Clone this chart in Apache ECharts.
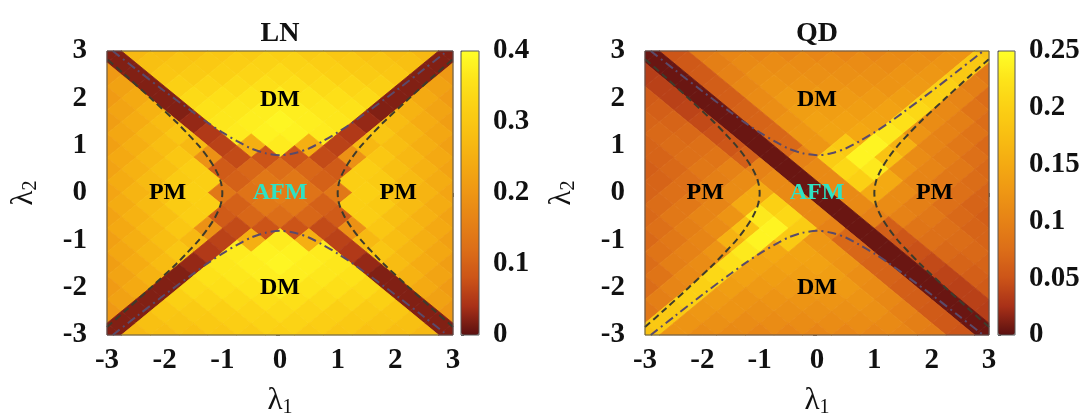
<!DOCTYPE html>
<html><head><meta charset="utf-8">
<script src="https://cdn.jsdelivr.net/npm/echarts@6/dist/echarts.min.js"></script>
<style>html,body{margin:0;padding:0;background:#fff}#c{width:1090px;height:414px}</style>
</head><body><div id="c"></div>
<script>
// Values sampled on a diagonal lattice: rows of lambda2 from 3 (top) to -3 (bottom);
// rows with 13 values sit at lambda1 = -3,-2.5,...,3, rows with 12 values at -2.75,...,2.75
const rowY  = [3,2.75,2.5,2.25,2,1.75,1.5,1.25,1,0.75,0.5,0.25,0,-0.25,-0.5,-0.75,-1,-1.25,-1.5,-1.75,-2,-2.25,-2.5,-2.75,-3];
const xEven = [-3,-2.5,-2,-1.5,-1,-0.5,0,0.5,1,1.5,2,2.5,3];
const xOdd  = [-2.75,-2.25,-1.75,-1.25,-0.75,-0.25,0.25,0.75,1.25,1.75,2.25,2.75];
// LN
const lnRows = [
[.02,.27,.28,.29,.30,.31,.32,.31,.30,.29,.28,.27,.02],
[.02,.285,.295,.305,.315,.325,.325,.315,.305,.295,.285,.02],
[.205,.02,.30,.31,.32,.33,.34,.33,.32,.31,.30,.02,.205],
[.223,.02,.32,.33,.34,.35,.35,.34,.33,.32,.02,.223],
[.21,.24,.02,.34,.35,.36,.37,.36,.35,.34,.02,.24,.21],
[.228,.258,.02,.355,.365,.375,.375,.365,.355,.02,.258,.228],
[.215,.245,.275,.03,.365,.375,.385,.375,.365,.03,.275,.245,.215],
[.233,.263,.298,.05,.37,.38,.38,.37,.05,.298,.263,.233],
[.22,.25,.28,.27,.06,.25,.37,.25,.06,.27,.28,.25,.22],
[.238,.268,.30,.19,.07,.08,.08,.07,.19,.30,.268,.238],
[.225,.255,.285,.315,.09,.11,.12,.11,.09,.315,.285,.255,.225],
[.243,.273,.308,.318,.10,.14,.14,.10,.318,.308,.273,.243],
[.23,.26,.29,.32,.14,.13,.15,.13,.14,.32,.29,.26,.23],
[.243,.273,.308,.318,.10,.14,.14,.10,.318,.308,.273,.243],
[.225,.255,.285,.315,.09,.11,.12,.11,.09,.315,.285,.255,.225],
[.238,.268,.30,.19,.07,.08,.08,.07,.19,.30,.268,.238],
[.22,.25,.28,.27,.06,.25,.37,.25,.06,.27,.28,.25,.22],
[.233,.263,.298,.05,.37,.38,.38,.37,.05,.298,.263,.233],
[.215,.245,.275,.03,.365,.375,.385,.375,.365,.03,.275,.245,.215],
[.228,.258,.02,.355,.365,.375,.375,.365,.355,.02,.258,.228],
[.21,.24,.02,.34,.35,.36,.37,.36,.35,.34,.02,.24,.21],
[.223,.02,.32,.33,.34,.35,.35,.34,.33,.32,.02,.223],
[.205,.02,.30,.31,.32,.33,.34,.33,.32,.31,.30,.02,.205],
[.02,.285,.295,.305,.315,.325,.325,.315,.305,.295,.285,.02],
[.02,.27,.28,.29,.30,.31,.32,.31,.30,.29,.28,.27,.02]
];
// QD
const qdRows = [
[.005,.052,.092,.105,.105,.105,.105,.105,.105,.11,.113,.122,.18],
[.005,.055,.096,.11,.113,.113,.113,.113,.113,.117,.122,.19],
[.035,.005,.057,.1,.117,.117,.117,.117,.117,.122,.126,.19,.087],
[.037,.005,.06,.107,.122,.122,.122,.122,.122,.13,.20,.096],
[.057,.037,.005,.061,.111,.13,.13,.13,.13,.135,.20,.104,.074],
[.061,.039,.005,.064,.115,.135,.135,.135,.14,.21,.109,.083],
[.065,.065,.043,.005,.065,.122,.14,.14,.143,.22,.113,.096,.074],
[.07,.07,.048,.005,.068,.126,.143,.148,.23,.122,.1,.083],
[.065,.074,.077,.052,.005,.07,.126,.19,.24,.16,.104,.087,.07],
[.065,.078,.084,.061,.005,.10,.195,.24,.18,.113,.096,.078],
[.061,.07,.087,.1,.10,.005,.11,.21,.23,.122,.104,.087,.07],
[.065,.078,.096,.113,.11,.005,.11,.20,.15,.104,.087,.074],
[.065,.078,.096,.113,.15,.11,.005,.11,.15,.113,.096,.078,.065],
[.074,.087,.104,.15,.20,.11,.005,.11,.113,.096,.078,.065],
[.07,.087,.104,.122,.23,.21,.11,.005,.10,.1,.087,.07,.061],
[.078,.096,.113,.18,.24,.195,.10,.005,.061,.084,.078,.065],
[.07,.087,.104,.16,.24,.19,.126,.07,.005,.052,.077,.074,.065],
[.083,.1,.122,.23,.148,.143,.126,.068,.005,.048,.07,.07],
[.074,.096,.113,.22,.143,.14,.14,.122,.065,.005,.043,.065,.065],
[.083,.109,.21,.14,.135,.135,.135,.115,.064,.005,.039,.061],
[.074,.104,.20,.135,.13,.13,.13,.13,.111,.061,.005,.037,.057],
[.096,.20,.13,.122,.122,.122,.122,.122,.107,.06,.005,.037],
[.087,.19,.126,.122,.117,.117,.117,.117,.117,.1,.057,.005,.035],
[.19,.122,.117,.113,.113,.113,.113,.113,.11,.096,.055,.005],
[.18,.122,.113,.11,.105,.105,.105,.105,.105,.105,.092,.052,.005]
];
// phase boundary curves
const dmX     = [-2.9,-2.5,-2,-1.5,-1.25,-1,-0.75,-0.5,-0.25,0,0.25,0.5,0.75,1,1.25,1.5,2,2.5,2.9];
const dmYup   = [3.0,2.62,2.15,1.70,1.48,1.28,1.10,0.94,0.84,0.80,0.84,0.94,1.10,1.28,1.48,1.70,2.15,2.62,3.0];
const dmYdown = [-3.0,-2.62,-2.15,-1.70,-1.48,-1.28,-1.10,-0.94,-0.84,-0.80,-0.84,-0.94,-1.10,-1.28,-1.48,-1.70,-2.15,-2.62,-3.0];
const pmY      = [-2.83,-2.5,-2,-1.5,-1.25,-1,-0.75,-0.5,-0.25,0,0.25,0.5,0.75,1,1.25,1.5,2,2.5,2.83];
const pmXright = [3.0,2.69,2.24,1.80,1.60,1.41,1.25,1.12,1.03,1.0,1.03,1.12,1.25,1.41,1.60,1.80,2.24,2.69,3.0];
const pmXleft  = [-3.0,-2.69,-2.24,-1.80,-1.60,-1.41,-1.25,-1.12,-1.03,-1.0,-1.03,-1.12,-1.25,-1.41,-1.60,-1.80,-2.24,-2.69,-3.0];
// region labels
const regionNames = ['DM','DM','PM','PM','AFM'];
const regionX = [0,0,-1.95,2.05,0];
const regionY = [1.97,-2,0,0,0];
const lnCbarMax = 0.4, lnCbarStep = 0.1;
const qdCbarMax = 0.25, qdCbarStep = 0.05;
const panelTitles = ['LN','QD'];

const CMAP = ['#5a1010','#a83018','#cc5418','#dc6e18','#e68216','#ee9614','#f4aa12','#f8be12','#fbd014','#fde41a','#ffff28'];
const H = 0.25;
function toData(rows){const d=[];rows.forEach((r,ri)=>{const xs=r.length===13?xEven:xOdd;r.forEach((v,ci)=>d.push([xs[ci],rowY[ri],v]));});return d;}
function cl(v){return Math.max(-3,Math.min(3,v));}
function cellRender(params, api){
  const x=api.value(0), y=api.value(1), c=api.visual('color');
  const pts=[[cl(x+H),y],[x,cl(y+H)],[cl(x-H),y],[x,cl(y-H)]].map(p=>api.coord(p));
  return {type:'polygon',shape:{points:pts},style:{fill:c,stroke:c,lineWidth:0.8}};
}
const FONT='Liberation Serif';
const tickLabel={fontFamily:FONT,fontWeight:'bold',fontSize:29,color:'#111'};
const nameStyle={fontFamily:FONT,fontSize:31,color:'#111',rich:{s:{fontFamily:FONT,fontSize:20,verticalAlign:'bottom',padding:[14,0,0,0]}}};
function mainX(gi){return {gridIndex:gi,type:'value',min:-3,max:3,interval:1,splitLine:{show:false},axisLine:{show:false},
  axisTick:{show:true,length:4,lineStyle:{color:'#666'}},axisLabel:Object.assign({margin:11},tickLabel),
  name:'λ{s|1}',nameLocation:'middle',nameGap:49,nameTextStyle:nameStyle};}
function mainY(gi){return {gridIndex:gi,type:'value',min:-3,max:3,interval:1,splitLine:{show:false},axisLine:{show:false},
  axisTick:{show:true,length:4,lineStyle:{color:'#666'}},axisLabel:Object.assign({margin:20},tickLabel),
  name:'λ{s|2}',nameLocation:'middle',nameGap:66,nameTextStyle:nameStyle};}
function cbX(gi){return {gridIndex:gi,type:'value',show:false,min:0,max:1};}
function cbY(gi,max,step){return {gridIndex:gi,type:'value',position:'right',min:0,max:max,interval:step,splitLine:{show:false},axisLine:{show:false},
  axisTick:{show:true,length:3,lineStyle:{color:'#666'}},axisLabel:Object.assign({margin:14},tickLabel)};}
function curve(xs,ys,ax,dash,color){return {type:'line',xAxisIndex:ax,yAxisIndex:ax,data:xs.map((x,i)=>[x,ys[i]]),showSymbol:false,silent:true,
  smooth:0.3,lineStyle:{width:2,color:color,type:dash},z:4,animation:false};}
const DASHDOT=[9,4,2,4], DASH=[7,4];
const DMC='#5a4a6a', PMC='#3d3b2c';
function labels(ax){return {type:'scatter',xAxisIndex:ax,yAxisIndex:ax,symbolSize:0,silent:true,z:6,animation:false,
  data:regionNames.map((n,i)=>({value:[regionX[i],regionY[i]],name:n,
     label:n==='AFM'?{color:'#2ee2c4'}:undefined})),
  label:{show:true,position:'inside',formatter:p=>p.name,fontFamily:FONT,fontWeight:'bold',fontSize:24,
    color:'#000',textBorderWidth:0,textShadowBlur:0,opacity:1}};}
function gridBox(l,w){return {left:l,top:51,width:w,height:284,show:true,borderColor:'#555',borderWidth:1,
  backgroundColor:'transparent',z:5,containLabel:false,outerBoundsMode:'none'};}

const chart=echarts.init(document.getElementById('c'),null,{renderer:'canvas'});
chart.setOption({
  animation:false,
  backgroundColor:'#fff',
  title:[
    {text:panelTitles[0],left:280,top:20,textAlign:'center',padding:0,textStyle:{fontFamily:FONT,fontWeight:'bold',fontSize:28,color:'#111'}},
    {text:panelTitles[1],left:817,top:20,textAlign:'center',padding:0,textStyle:{fontFamily:FONT,fontWeight:'bold',fontSize:28,color:'#111'}}
  ],
  grid:[gridBox(107,346),gridBox(645,344),gridBox(461,18),gridBox(998,17)],
  xAxis:[mainX(0),mainX(1),cbX(2),cbX(3)],
  yAxis:[mainY(0),mainY(1),cbY(2,lnCbarMax,lnCbarStep),cbY(3,qdCbarMax,qdCbarStep)],
  visualMap:[
    {type:'continuous',seriesIndex:0,dimension:2,min:0,max:lnCbarMax,calculable:false,hoverLink:false,inRange:{color:CMAP},
      orient:'vertical',left:461,top:51,itemWidth:18,itemHeight:284,padding:0,text:null},
    {type:'continuous',seriesIndex:1,dimension:2,min:0,max:qdCbarMax,calculable:false,hoverLink:false,inRange:{color:CMAP},
      orient:'vertical',left:998,top:51,itemWidth:17,itemHeight:284,padding:0,text:null}
  ],
  series:[
    {type:'custom',xAxisIndex:0,yAxisIndex:0,data:toData(lnRows),renderItem:cellRender,silent:true,z:2,animation:false},
    {type:'custom',xAxisIndex:1,yAxisIndex:1,data:toData(qdRows),renderItem:cellRender,silent:true,z:2,animation:false},
    curve(dmX,dmYup,0,DASHDOT,DMC), curve(dmX,dmYdown,0,DASHDOT,DMC),
    curve(pmXleft,pmY,0,DASH,PMC), curve(pmXright,pmY,0,DASH,PMC),
    curve(dmX,dmYup,1,DASHDOT,DMC), curve(dmX,dmYdown,1,DASHDOT,DMC),
    curve(pmXleft,pmY,1,DASH,PMC), curve(pmXright,pmY,1,DASH,PMC),
    labels(0), labels(1)
  ]
});
</script></body></html>
